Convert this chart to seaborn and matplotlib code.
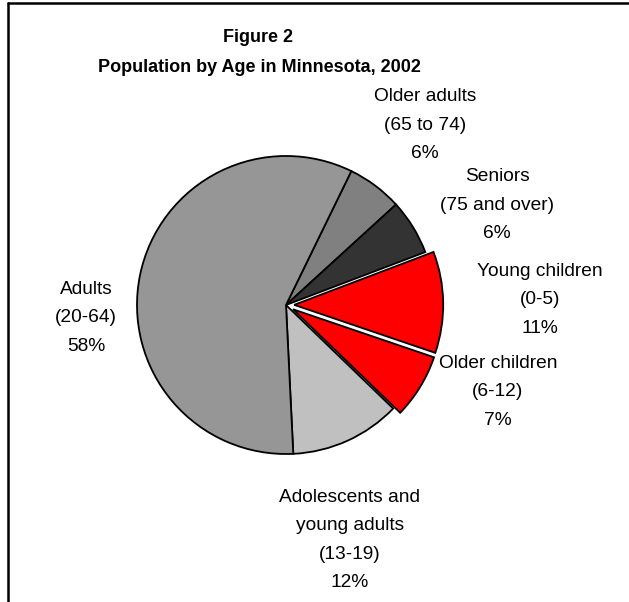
import matplotlib
matplotlib.use("Agg")
import matplotlib.pyplot as plt
import seaborn as sns
from matplotlib.lines import Line2D

# ---- data ----
categories = ["Older adults\n(65 to 74)", "Seniors\n(75 and over)", "Young children\n(0-5)",
              "Older children\n(6-12)", "Adolescents and\nyoung adults\n(13-19)", "Adults\n(20-64)"]
shares = [6, 6, 11, 7, 12, 58]
title_lines = ["Figure 2", "Population by Age in Minnesota, 2002"]

# ---- style ----
colors = ["#808080", "#333333", "#ff0000", "#ff0000", "#c0c0c0", "#969696"]
explode = [0, 0, 0.055, 0.055, 0, 0]
# label centres in pixels (x, y from top)
label_pos = [(425, 125), (497, 205), (540, 300), (498, 392), (350, 540), (86, 318)]

sns.set_theme(style="white")
plt.rcParams["font.family"] = ["Liberation Sans", "DejaVu Sans"]
plt.rcParams["text.color"] = "black"

W, H = 629, 602
fig = plt.figure(figsize=(W / 100, H / 100), dpi=100)
fig.patch.set_facecolor("white")

cx, cy, R = 286, 305, 149
ax = fig.add_axes([(cx - R) / W, (H - cy - R) / H, 2 * R / W, 2 * R / H])
wedges, _ = ax.pie(shares, colors=colors, explode=explode, startangle=64,
                   counterclock=False,
                   wedgeprops=dict(edgecolor="black", linewidth=1.3))
for w in wedges:
    w.set_clip_on(False)
ax.set_xlim(-1, 1)
ax.set_ylim(-1, 1)
ax.set_aspect("equal")
ax.axis("off")

# labels
for cat, val, (x, y) in zip(categories, shares, label_pos):
    fig.text(x / W, 1 - y / H, f"{cat}\n{val}%", ha="center", va="center",
             multialignment="center", fontsize=13.8, linespacing=1.88, color="black")

# title
fig.text(258 / W, 1 - 38 / H, title_lines[0], ha="center", va="center",
         fontsize=13, fontweight="bold", color="black")
fig.text(259 / W, 1 - 67 / H, title_lines[1], ha="center", va="center",
         fontsize=13, fontweight="bold", color="black")

# frame (top and left edges visible)
fig.add_artist(Line2D([8 / W, 1.0], [1 - 3 / H, 1 - 3 / H], color="black", lw=1.8,
                      transform=fig.transFigure))
fig.add_artist(Line2D([8 / W, 8 / W], [1 - 3 / H, 0], color="black", lw=1.8,
                      transform=fig.transFigure))

fig.savefig("out.png", dpi=100, facecolor="white")
